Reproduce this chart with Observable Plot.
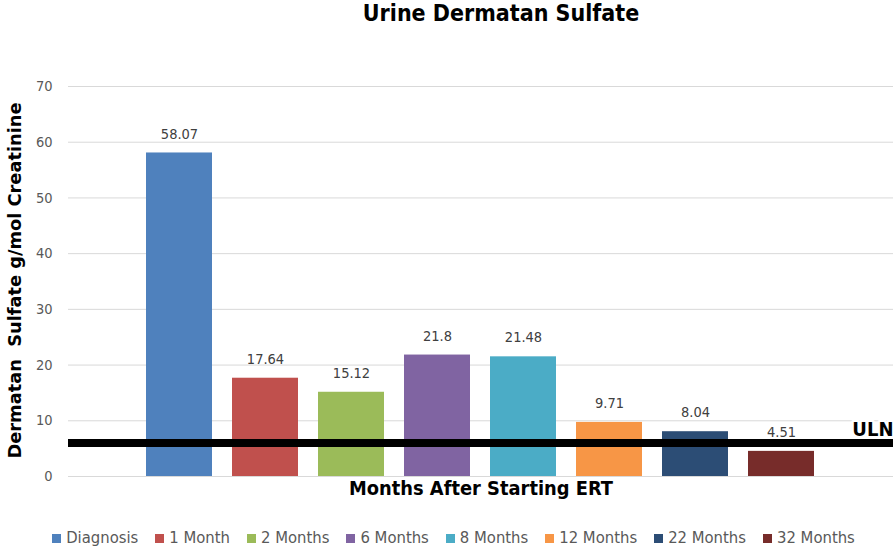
<!DOCTYPE html>
<html><head><meta charset="utf-8">
<script src="https://cdn.jsdelivr.net/npm/d3@7"></script>
<script src="https://cdn.jsdelivr.net/npm/@observablehq/plot@0.6"></script>
<style>
body{margin:0;background:#fff;font-family:"Liberation Sans Narrow","DejaVu Sans Condensed","Liberation Sans",sans-serif;width:895px;overflow:hidden}
#title{height:35px;text-align:center;font-weight:bold;font-size:23px;line-height:27px;padding-left:107px;box-sizing:border-box;color:#000}
#chart{height:485px}
#legend{height:28px;display:flex;justify-content:center;gap:17px;align-items:center;font-size:16.5px;color:#595959;padding-left:12px;padding-top:6px;box-sizing:border-box}
#legend span.sw{display:inline-block;width:9px;height:9px;margin-right:5px}
</style></head><body>
<div id="title">Urine Dermatan Sulfate</div>
<div id="chart"></div>
<div id="legend"></div>
<script>
const categories = ["Diagnosis","1 Month","2 Months","6 Months","8 Months","12 Months","22 Months","32 Months"];
const values = [58.07,17.64,15.12,21.8,21.48,9.71,8.04,4.51];
const valueLabels = ["58.07","17.64","15.12","21.8","21.48","9.71","8.04","4.51"];
const colors = ["#4F81BD","#C0504D","#9BBB59","#8064A2","#4BACC6","#F79646","#2C4D75","#772C2A"];
const yTicks = [0,10,20,30,40,50,60,70];
const uln = 6;
const yTitle = "Dermatan  Sulfate g/mol Creatinine";
const xTitle = "Months After Starting ERT";

const data = categories.map((c,i)=>({category:c,value:values[i],label:valueLabels[i],color:colors[i]}));
const font = '"Liberation Sans Narrow","DejaVu Sans Condensed","Liberation Sans",sans-serif';

const plot = Plot.plot({
  width:895, height:485,
  marginTop:51, marginBottom:44, marginLeft:68, marginRight:2,
  style:{fontFamily:font, background:"#fff"},
  x:{domain:categories, padding:0.23, insetLeft:57, insetRight:58, axis:null},
  y:{domain:[0,70], axis:null},
  marks:[
    Plot.ruleY(yTicks,{stroke:"#d9d9d9", strokeWidth:1}),
    Plot.axisY({ticks:yTicks, tickSize:0, tickPadding:16, fontSize:14.5, color:"#595959", label:null}),
    Plot.barY(data,{x:"category", y:"value", fill:"color"}),
    Plot.text(data,{x:"category", y:"value", text:"label", dy:-19, fontSize:14.5, fill:"#404040"}),
    Plot.ruleY([uln],{stroke:"#000", strokeWidth:8}),
    Plot.text([{v:uln}],{y:"v", frameAnchor:"right", text:()=>"ULN", textAnchor:"end", dy:-13, fontSize:20, fontWeight:"bold", fill:"#000", stroke:"#fff", strokeWidth:5}),
    Plot.text([yTitle],{frameAnchor:"left", rotate:-90, dx:-53, dy:177, textAnchor:"start", fontSize:18, fontWeight:"bold", fill:"#000", className:"ytitle"}),
    Plot.text([xTitle],{frameAnchor:"bottom", dy:18, fontSize:20, fontWeight:"bold", fill:"#000", className:"xtitle"})
  ]
});
document.getElementById("chart").appendChild(plot);
d3.select(plot).selectAll(".ytitle text").attr("textLength",356).attr("lengthAdjust","spacingAndGlyphs");
d3.select(plot).selectAll(".xtitle text").attr("textLength",264).attr("lengthAdjust","spacingAndGlyphs");

const legend = d3.select("#legend");
categories.forEach((c,i)=>{
  const item = legend.append("div");
  item.append("span").attr("class","sw").style("background",colors[i]);
  item.append("span").text(c);
});
</script>
</body></html>
